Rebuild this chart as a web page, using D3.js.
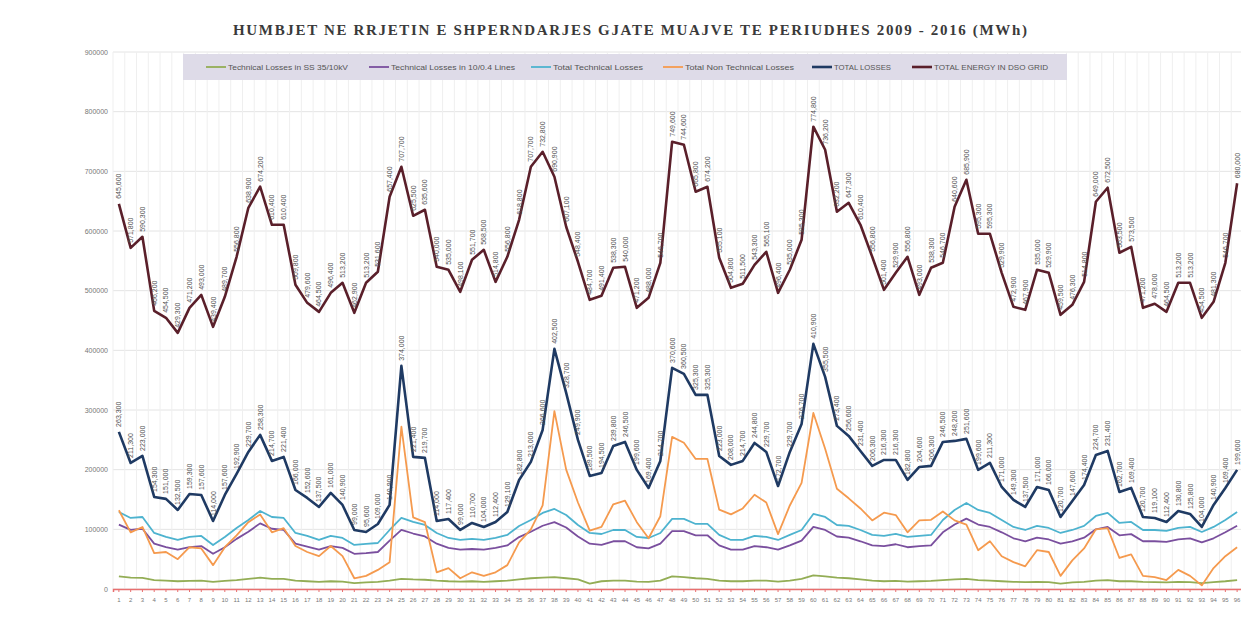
<!DOCTYPE html>
<html><head><meta charset="utf-8">
<script src="https://cdn.jsdelivr.net/npm/d3@7/dist/d3.min.js"></script>
<style>body{margin:0;background:#fff}svg{display:block}</style>
</head><body>
<svg id="c" width="1241" height="637"></svg>
<script>
const title = "HUMBJET NE RRJETIN E SHPERNDARJES GJATE MUAJVE TE PERIUDHES  2009  -  2016 (MWh)";
const months = d3.range(1, 97).map(String);
const yTicks = [0,100000,200000,300000,400000,500000,600000,700000,800000,900000];
const seriesNames = ["Technical Losses in SS 35/10kV","Technical Losses in 10/0.4 Lines","Total Technical Losses","Total Non Technical Losses","TOTAL LOSSES","TOTAL ENERGY IN DSO GRID"];
const seriesColors = ["#93ad55","#7a4f9e","#4db3cf","#f59a4e","#1f3a63","#5a1f2a"];

const techSS = [21000,19000,18500,15000,14000,13000,13500,14000,12000,13500,15000,17000,19000,17000,17000,14000,13000,12000,13000,12500,10000,11000,12000,14000,17000,16000,15500,14000,13000,12500,13000,12000,13000,14000,16000,18000,19000,20000,18000,16000,9000,13000,14000,14000,12500,12000,14000,21000,20000,18000,17000,14000,13000,13000,14000,14000,12500,14000,17000,23000,21000,19000,18000,16000,14000,13000,13500,12500,13000,13500,15000,16000,17000,15000,14000,13000,12000,11500,12000,11500,9000,11000,12000,14000,15000,13000,13000,12000,11500,11000,12000,11500,10000,11500,13000,15000];
const techLines = [108000,99000,101000,76000,70000,66000,70000,72000,59000,70000,84000,96000,110000,101000,99000,76000,71000,66000,72000,69000,59000,60000,62000,81000,99000,93000,88000,76000,69000,66000,67000,66000,69000,73000,87000,96000,106000,112000,103000,88000,76000,74000,80000,80000,70000,68000,76000,97000,97000,90000,90000,73000,66000,66000,72000,70000,66000,73000,81000,104000,99000,88000,86000,80000,73000,72000,75000,70000,72000,73000,95000,108000,118000,108000,104000,95000,85000,80000,86000,83000,76000,80000,86000,100000,104000,90000,92000,80000,80000,79000,83000,85000,78000,85000,95000,106000];
const totalTech = [129100,119100,120700,93900,87200,82200,87200,88900,73800,87200,102300,115700,130800,120700,119100,93900,88900,82200,88900,85500,73800,75500,77100,98900,119100,112400,107300,93900,85500,82200,83900,82200,85500,90600,105700,115700,127500,134200,124100,107300,93900,92200,98900,98900,87200,85500,93900,117400,117400,109000,109000,90600,82200,82200,88900,87200,82200,90600,98900,125800,120700,107300,105700,98900,90600,88900,92200,87200,88900,90600,115700,132500,144200,132500,127500,115700,104000,98900,105700,102300,93900,98900,105700,122400,127500,110700,112400,98900,98900,97300,102300,104000,95600,104000,115700,129100];
const nonTech = [132000,95000,104000,60000,62000,50000,70000,68000,40000,70000,90000,112000,125000,95000,102000,72000,62000,55000,72000,55000,18000,22000,32000,45000,272000,120000,112000,28000,35000,18000,28000,22000,28000,40000,78000,100000,140000,298000,200000,145000,98000,104000,142000,148000,112000,85000,122000,255000,245000,218000,218000,133000,125000,135000,158000,145000,92000,140000,178000,295000,235000,168000,152000,135000,115000,128000,124000,95000,115000,116000,130000,115000,108000,65000,80000,55000,45000,38000,65000,62000,22000,48000,68000,100000,102000,52000,58000,22000,20000,15000,32000,22000,6000,35000,55000,70000];
const totalLosses = [263300,211300,223000,154300,151000,132500,159300,157600,114000,157600,192900,229700,258300,214700,221400,166000,152600,137500,161000,140900,99000,95600,109000,140900,374000,221400,219700,114000,117400,99000,110700,104000,112400,129100,182800,213000,266600,402500,328700,249900,189500,194500,239800,246500,199600,169400,214700,370600,360500,325300,325300,223000,208000,214700,244800,229700,172700,229700,276700,410900,355500,273400,256600,231400,206300,216300,216300,182800,204600,206300,246500,248200,251600,199600,211300,171000,149300,137500,171000,166000,120700,147600,174400,224700,231400,162700,169400,120700,119100,112400,130800,125800,104000,140900,169400,199600];
const totalEnergy = [645600,571800,590300,466200,454500,429300,471200,493000,439400,489700,556800,638900,674200,610400,610400,509800,479600,464500,496400,513200,462900,513200,531600,657400,707700,625500,635600,540000,535000,498100,551700,568500,514800,556800,618800,707700,732800,690900,607100,548400,484700,491400,538300,540000,471200,488000,546700,749600,744600,665800,674200,555100,504800,511500,543300,565100,496400,535000,585300,774800,736200,632200,647300,610400,556800,501400,529900,556800,493000,538300,546700,640600,685900,595300,595300,529900,472900,467900,535000,529900,459500,476300,514800,649000,672500,563500,573500,471200,478000,464500,513200,513200,454500,481300,546700,680000];

const seriesData = [techSS, techLines, totalTech, nonTech, totalLosses, totalEnergy];
const seriesWidths = [1.8, 1.8, 1.8, 1.8, 2.6, 2.6];
const labelled = [false,false,false,false,true,true];

const svg = d3.select("#c");
const x = d3.scaleBand().domain(months).range([113, 1243]);
const cx = d => x(d) + x.bandwidth()/2;
const y = d3.scaleLinear().domain([0, 900000]).range([589, 52]);

// title
svg.append("text").attr("x", 630).attr("y", 35).attr("text-anchor","middle")
  .attr("font-family","'Liberation Serif','DejaVu Serif',serif").attr("font-size",15)
  .attr("font-weight","bold")
  .attr("fill","#3a3a3a").attr("textLength",794).attr("lengthAdjust","spacing").text(title);

// gridlines
const g = svg.append("g");
g.selectAll("line.h").data(yTicks).join("line")
  .attr("x1",113).attr("x2",1247).attr("y1",d=>y(d)).attr("y2",d=>y(d))
  .attr("stroke","#e4e4e4").attr("stroke-width",1);
g.selectAll("line.v").data(months).join("line")
  .attr("x1",d=>x(d)).attr("x2",d=>x(d)).attr("y1",y(900000)).attr("y2",y(0))
  .attr("stroke","#efefef").attr("stroke-width",1);

// y axis
const ya = svg.append("g").attr("transform","translate(110,0)")
  .call(d3.axisLeft(y).tickValues(yTicks).tickFormat(d3.format("d")).tickSize(0).tickPadding(2));
ya.select(".domain").remove();
ya.selectAll("text").attr("font-family","'Liberation Sans',Arial,sans-serif").attr("font-size",7).attr("fill","#777");

// x axis
const xa = svg.append("g").attr("transform",`translate(0,${y(0)})`)
  .call(d3.axisBottom(x).tickSize(3).tickPadding(6));
xa.select(".domain").attr("stroke","#e87070").attr("stroke-width",1.5);
xa.selectAll(".tick line").attr("stroke","#e87070");
xa.selectAll("text").attr("font-family","'Liberation Sans',Arial,sans-serif").attr("font-size",6).attr("fill","#777");

// lines
const line = d3.line().x((d,i)=>cx(months[i])).y(d=>y(d));
seriesData.forEach((arr, k) => {
  svg.append("path").datum(arr).attr("d", line).attr("fill","none")
    .attr("stroke", seriesColors[k]).attr("stroke-width", seriesWidths[k]).attr("stroke-linejoin","round");
});

// data labels
const fmt = d3.format(",");
seriesData.forEach((arr, k) => {
  if (!labelled[k]) return;
  svg.append("g").selectAll("text").data(arr).join("text")
    .attr("transform",(d,i)=>`translate(${cx(months[i])+2.5},${y(d)-5}) rotate(-90)`)
    .attr("font-family","'Liberation Sans',Arial,sans-serif").attr("font-size",7)
    .attr("fill","#505050").text(d=>fmt(d));
});

// legend
const legend = svg.append("g");
legend.append("rect").attr("x",183).attr("y",54).attr("width",884).attr("height",26).attr("fill","#dedbe8");
const legX = [206, 369, 531, 663, 812, 912];
const legW = [120, 124, 90, 109, 57, 114];
seriesNames.forEach((n,k)=>{
  legend.append("line").attr("x1",legX[k]).attr("x2",legX[k]+20).attr("y1",67).attr("y2",67)
    .attr("stroke",seriesColors[k]).attr("stroke-width",seriesWidths[k]);
  legend.append("text").attr("x",legX[k]+22).attr("y",69.5).attr("font-family","'Liberation Sans',Arial,sans-serif")
    .attr("font-size",7).attr("fill","#555").attr("textLength",legW[k]).attr("lengthAdjust","spacingAndGlyphs").text(n);
});
</script>
</body></html>
